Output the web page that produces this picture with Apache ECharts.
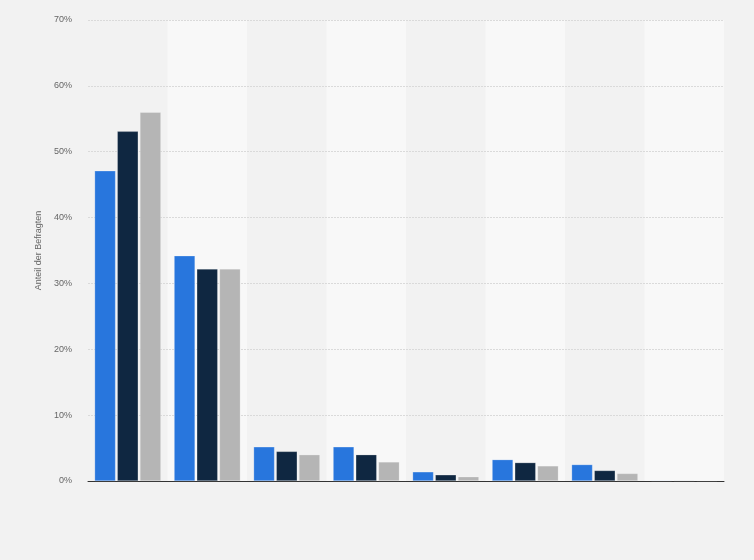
<!DOCTYPE html>
<html>
<head>
<meta charset="utf-8">
<script src="https://cdn.jsdelivr.net/npm/echarts@6/dist/echarts.min.js"></script>
<style>
  html,body{margin:0;padding:0;background:#f2f2f2;}
  #chart{width:754px;height:560px;}
</style>
</head>
<body>
<div id="chart"></div>
<script>
// Kategorien haben im Bild keine Beschriftung
const categories = ['', ' ', '  ', '   ', '    ', '     ', '      ', '       ']
// Anteile in Prozent
const seriesBlue = [47.1, 34.2, 5.2, 5.2, 1.4, 3.25, 2.5, 0.1]
const seriesDark = [53.1, 32.2, 4.5, 4.0, 0.95, 2.8, 1.6, 0.1]
const seriesGray = [56.0, 32.2, 4.0, 2.9, 0.65, 2.3, 1.15, 0.1]
const yTicks = [0, 10, 20, 30, 40, 50, 60, 70]

const colors = ['#2876dd', '#0f2741', '#b5b5b5']

let myChart = echarts.init(document.getElementById('chart'))

function bar(data, color) {
  return {
    type: 'bar',
    data: data,
    barWidth: 21,
    barGap: '8%',
    z: 5,
    itemStyle: {color: color, borderColor: 'rgba(255,255,255,0.35)', borderWidth: 0.6}
  }
}

let option = {
  backgroundColor: '#f2f2f2',
  animation: false,
  grid: {left: 88, right: 30, top: 20, bottom: 79},
  xAxis: {
    type: 'category',
    data: categories,
    z: 1,
    axisLine: {lineStyle: {color: '#333', width: 1}},
    axisTick: {show: false},
    axisLabel: {show: false},
    splitArea: {show: true, areaStyle: {color: ['#f2f2f2', '#f8f8f8']}}
  },
  yAxis: {
    type: 'value',
    z: 3,
    min: yTicks[0],
    max: yTicks[yTicks.length - 1],
    interval: 10,
    name: 'Anteil der Befragten',
    nameLocation: 'middle',
    nameGap: 44,
    nameTextStyle: {color: '#666', fontSize: 9, fontFamily: 'Arial, Liberation Sans'},
    axisLine: {show: false},
    axisTick: {show: false},
    axisLabel: {
      formatter: '{value}%',
      color: '#666',
      fontSize: 9,
      fontFamily: 'Arial, Liberation Sans',
      margin: 16
    },
    splitLine: {showMinLine: false, lineStyle: {color: '#dadada', type: [2, 1], width: 1}}
  },
  series: [
    bar(seriesBlue, colors[0]),
    bar(seriesDark, colors[1]),
    bar(seriesGray, colors[2])
  ]
}
myChart.setOption(option)
</script>
</body>
</html>
